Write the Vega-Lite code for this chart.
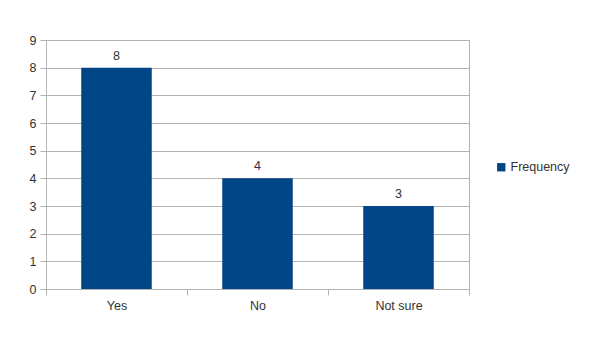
{
  "$schema": "https://vega.github.io/schema/vega-lite/v6.json",
  "autosize": "none",
  "width": 423,
  "height": 249,
  "padding": {"left": 46, "top": 40, "right": 122, "bottom": 52},
  "background": "white",
  "config": {
    "font": "Liberation Sans",
    "view": {"stroke": "#b3b3b3", "strokeWidth": 1},
    "axis": {"labelColor": "#333333", "labelFontSize": 12.5, "domainColor": "#b3b3b3", "tickColor": "#b3b3b3", "gridColor": "#b3b3b3", "titleFontSize": 12}
  },
  "data": {
    "values": [
      {"answer": "Yes", "count": 8, "series": "Frequency"},
      {"answer": "No", "count": 4, "series": "Frequency"},
      {"answer": "Not sure", "count": 3, "series": "Frequency"}
    ]
  },
  "encoding": {
    "x": {
      "field": "answer", "type": "nominal", "sort": null, "title": null,
      "scale": {"paddingInner": 0, "paddingOuter": 0},
      "axis": {"labelAngle": 0, "tickBand": "extent", "tickSize": 6, "labelPadding": 4, "grid": false}
    },
    "y": {
      "field": "count", "type": "quantitative", "title": null,
      "scale": {"domain": [0, 9], "nice": false},
      "axis": {"values": [0,1,2,3,4,5,6,7,8,9], "labelOverlap": false, "labelFlush": false, "tickSize": 6, "labelPadding": 4, "grid": true}
    }
  },
  "layer": [
    {
      "mark": {"type": "bar", "width": {"band": 0.5}},
      "encoding": {
        "color": {
          "field": "series", "type": "nominal", "title": null,
          "scale": {"range": ["#004586"]},
          "legend": {"orient": "none", "legendX": 449, "legendY": 121, "symbolType": "square", "symbolSize": 70, "labelFontSize": 12.5, "labelColor": "#333333", "labelOffset": 3}
        }
      }
    },
    {
      "mark": {"type": "text", "baseline": "bottom", "dy": -5, "fontSize": 12.5, "color": "#333333"},
      "encoding": {"text": {"field": "count", "type": "quantitative"}}
    }
  ]
}
